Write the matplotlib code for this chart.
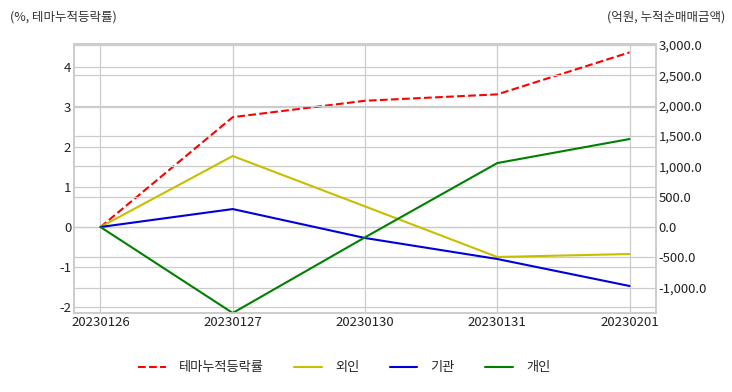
import matplotlib
matplotlib.use("Agg")
import matplotlib.pyplot as plt
from matplotlib.ticker import FuncFormatter

plt.style.use("seaborn-v0_8-whitegrid")
plt.rcParams['font.family'] = ['Noto Sans CJK KR', 'DejaVu Sans']
plt.rcParams['axes.unicode_minus'] = False

# data
dates = ["20230126", "20230127", "20230130", "20230131", "20230201"]
theme_rate = [0.0, 2.75, 3.16, 3.32, 4.37]      # % (left axis)
foreign = [0.0, 1170.0, 340.0, -494.0, -445.0]   # 억원 (right axis)
institution = [0.0, 296.0, -181.0, -527.0, -972.0]
individual = [0.0, -1417.0, -170.0, 1054.0, 1450.0]

fig = plt.figure(figsize=(7.32, 3.92), dpi=100)
ax = fig.add_axes([74 / 732, 1 - 313 / 392, (656 - 74) / 732, (313 - 44) / 392])
ax2 = ax.twinx()

x = list(range(len(dates)))
l1, = ax.plot(x, theme_rate, color="red", linestyle="--", linewidth=1.5, label="테마누적등락률")
l2, = ax2.plot(x, foreign, color="#c8be00", linewidth=1.5, label="외인")
l3, = ax2.plot(x, institution, color="#0000dd", linewidth=1.5, label="기관")
l4, = ax2.plot(x, individual, color="green", linewidth=1.5, label="개인")

ax.set_xlim(-0.2, 4.2)
ax.set_ylim(-2.15, 4.58)
ax2.set_ylim(-1417, 3016)
ax.set_xticks(x)
ax.set_xticklabels(dates)
ax.set_yticks(range(-2, 5))
ax2.set_yticks(range(-1000, 3001, 500))
ax2.yaxis.set_major_formatter(FuncFormatter(lambda v, p: f"{v:,.1f}"))

for a in (ax, ax2):
    a.tick_params(labelsize=9.5, colors="#222222", pad=2)
    a.grid(True, color="#cccccc", linewidth=0.9)
    for s in a.spines.values():
        s.set_visible(True)
        s.set_color("#cccccc")
        s.set_linewidth(1.2)
ax2.grid(axis="x", visible=False)

fig.text(10 / 732, 1 - 17 / 392, "(%, 테마누적등락률)", fontsize=9, color="#333333", va="center")
fig.text(725 / 732, 1 - 17 / 392, "(억원, 누적순매매금액)", fontsize=9, color="#333333", va="center", ha="right")

fig.legend(handles=[l1, l2, l3, l4], loc="center", bbox_to_anchor=(0.47, 1 - 368 / 392),
           ncol=4, frameon=False, fontsize=9.5, handlelength=2.1, handletextpad=1.0,
           columnspacing=2.3)

fig.savefig("out.png", dpi=100)
